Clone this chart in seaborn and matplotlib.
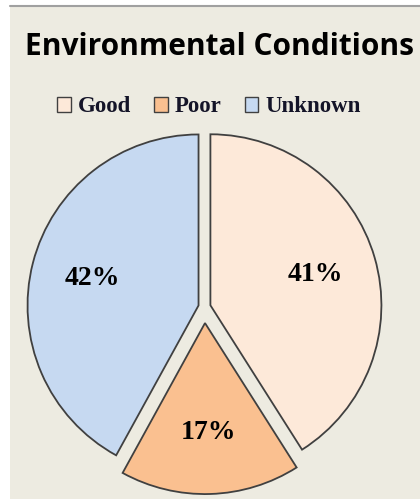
import matplotlib
matplotlib.use("Agg")
import matplotlib.pyplot as plt
import seaborn as sns
from matplotlib.patches import Rectangle, Patch

categories = ["Good", "Poor", "Unknown"]
values = [41, 17, 42]
colors = ["#FDE9D9", "#FAC090", "#C6D9F1"]
explode_frac = [0.036, 0.094, 0.036]
title = "Environmental Conditions"

sns.set_theme(style="white")
palette = sns.color_palette(colors)

W, H = 420, 499
fig = plt.figure(figsize=(W / 100, H / 100), dpi=100)
fig.patch.set_facecolor("white")

# panel background
fig.patches.append(Rectangle((10 / W, 0), 1 - 10 / W, 1 - 6 / H,
                             transform=fig.transFigure, facecolor="#EDEBE1",
                             edgecolor="none", zorder=-10))
fig.lines.append(plt.Line2D([10 / W, 1], [1 - 5.5 / H, 1 - 5.5 / H],
                            transform=fig.transFigure, color="#A0A0A0", lw=1.5,
                            zorder=-9))

ax = fig.add_axes([0, 0, 1, 1])
ax.set_zorder(1)
ax.patch.set_visible(False)
cx, cy, R = 204.5, H - 307.0, 171.0
wedges, texts, autotexts = ax.pie(
    values, colors=palette, explode=[e * R for e in explode_frac],
    startangle=90, counterclock=False,
    center=(cx, cy), radius=R, autopct="%1.0f%%", pctdistance=0.64,
    wedgeprops=dict(edgecolor="#404040", linewidth=1.3),
    textprops=dict(family="Liberation Serif", fontweight="bold", fontsize=20, color="black"),
)
ax.set_xlim(0, W)
ax.set_ylim(0, H)
ax.set_aspect("equal")
ax.axis("off")

fig.text(219 / W, 1 - 47 / H, title, ha="center", va="center",
         family="Open Sans", fontweight="bold", fontsize=21.5, color="black")

handles = [Patch(facecolor=c, edgecolor="#404040", linewidth=1.0) for c in palette]
leg = fig.legend(handles, categories, loc="center", bbox_to_anchor=(209 / W, 1 - 107 / H),
                 ncol=3, frameon=False, handlelength=0.6, handleheight=0.6,
                 handletextpad=0.3, columnspacing=1.0,
                 prop=dict(family="Liberation Serif", weight="bold", size=16.5))
for t in leg.get_texts():
    t.set_color("#141428")

fig.savefig("out.png", dpi=100, facecolor="white")
